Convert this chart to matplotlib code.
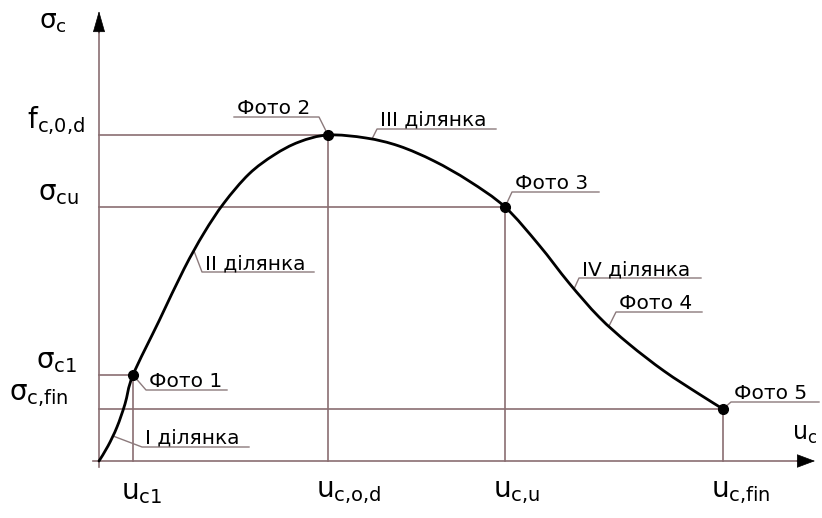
import matplotlib.pyplot as plt
from matplotlib.path import Path
from matplotlib.patches import PathPatch

# stress-strain curve (arbitrary units, origin at the axes corner)
u = [0, 9, 18, 26, 34, 60, 85, 105, 125, 150, 175, 200, 229,
     267, 300, 335, 370, 406, 440, 470, 500, 530, 565, 600, 624]
s = [0, 15, 34, 57, 86, 140, 192, 228, 258, 287, 306, 319, 326,
     323, 315, 300, 280, 254, 216, 178, 144, 117, 90, 67, 52]

# characteristic points (Фото 1, 2, 3, 5)
pt_u = [34, 229, 406, 624]
pt_s = [86, 326, 254, 52]
x_names = ['u_{c1}', 'u_{c{,}o{,}d}', 'u_{c{,}u}', 'u_{c{,}fin}']
y_names = ['σ_{c1}', 'f_{c{,}0{,}d}', 'σ_{cu}', 'σ_{c{,}fin}']

# callouts: text, point on curve, elbow of leader, end of underline
callouts = [
    ('Фото 1', (34, 86), (47, 71), 128),
    ('I ділянка', (14, 25), (43, 14), 150),
    ('II ділянка', (95, 210), (103, 189), 215),
    ('Фото 2', (229, 326), (220, 344), 135),
    ('III ділянка', (273, 322), (278, 332), 397),
    ('Фото 3', (406, 254), (413, 269), 500),
    ('IV ділянка', (475, 172), (480, 183), 602),
    ('Фото 4', (510, 135), (517, 149), 603),
    ('Фото 5', (624, 52), (632, 59), 720),
]

grid_c = '#8a6e72'
lead_c = '#8c7a7c'


def smooth_path(xs, ys):
    # catmull-rom through the points, drawn as cubic bezier pieces
    pts = list(zip(xs, ys))
    verts = [pts[0]]
    codes = [Path.MOVETO]
    n = len(pts)
    for i in range(n - 1):
        p0 = pts[i - 1] if i > 0 else pts[i]
        p1 = pts[i]
        p2 = pts[i + 1]
        p3 = pts[i + 2] if i + 2 < n else pts[i + 1]
        c1 = (p1[0] + (p2[0] - p0[0]) / 6, p1[1] + (p2[1] - p0[1]) / 6)
        c2 = (p2[0] - (p3[0] - p1[0]) / 6, p2[1] - (p3[1] - p1[1]) / 6)
        verts += [c1, c2, p2]
        codes += [Path.CURVE4] * 3
    return Path(verts, codes)


fig = plt.figure(figsize=(8.22, 5.18), dpi=100)
ax = fig.add_axes([0, 0, 1, 1])
ax.set_xlim(-99, 723)
ax.set_ylim(-57, 461)
ax.axis('off')

# axes with arrows
ax.plot([-6, 700], [0, 0], color=grid_c, lw=1.2)
ax.plot([0, 0], [-6, 430], color=grid_c, lw=1.2)
ax.annotate('', xy=(716, 0), xytext=(698, 0),
            arrowprops=dict(arrowstyle='-|>,head_length=1.2,head_width=0.45',
                            color='black', lw=0.5, shrinkA=0, shrinkB=0))
ax.annotate('', xy=(0, 450), xytext=(0, 428),
            arrowprops=dict(arrowstyle='-|>,head_length=1.4,head_width=0.4',
                            color='black', lw=0.5, shrinkA=0, shrinkB=0))

# reference lines to the characteristic points
for pu, ps in zip(pt_u, pt_s):
    ax.plot([0, pu], [ps, ps], color=grid_c, lw=1.2)
    ax.plot([pu, pu], [0, ps], color=grid_c, lw=1.2)

ax.add_patch(PathPatch(smooth_path(u, s), facecolor='none', edgecolor='black',
                       lw=2.0, capstyle='round', zorder=3))
ax.plot(pt_u, pt_s, 'o', color='black', ms=7, zorder=4)

for name, pu in zip(x_names, pt_u):
    ax.text(pu - 12, -31, '$\\mathregular{' + name + '}$', fontsize=20,
            ha='left', va='center')
for name, ps, dx in zip(y_names, pt_s, [-22, -14, -20, -30]):
    ax.text(dx, ps + 14, '$\\mathregular{' + name + '}$', fontsize=20,
            ha='right', va='center')
ax.text(-46, 439, '$\\mathregular{σ_c}$', fontsize=19, ha='center', va='center')
ax.text(706, 27, '$\\mathregular{u_c}$', fontsize=17, ha='center', va='center')

for txt, (au, a_s), (eu, es), end in callouts:
    ax.plot([au, eu, end], [a_s, es, es], color=lead_c, lw=1.0, zorder=2)
    left = min(eu, end)
    ax.text(left + 3, es + 3, txt, fontsize=14.5, ha='left', va='baseline')

fig.savefig('out.png', dpi=100)
